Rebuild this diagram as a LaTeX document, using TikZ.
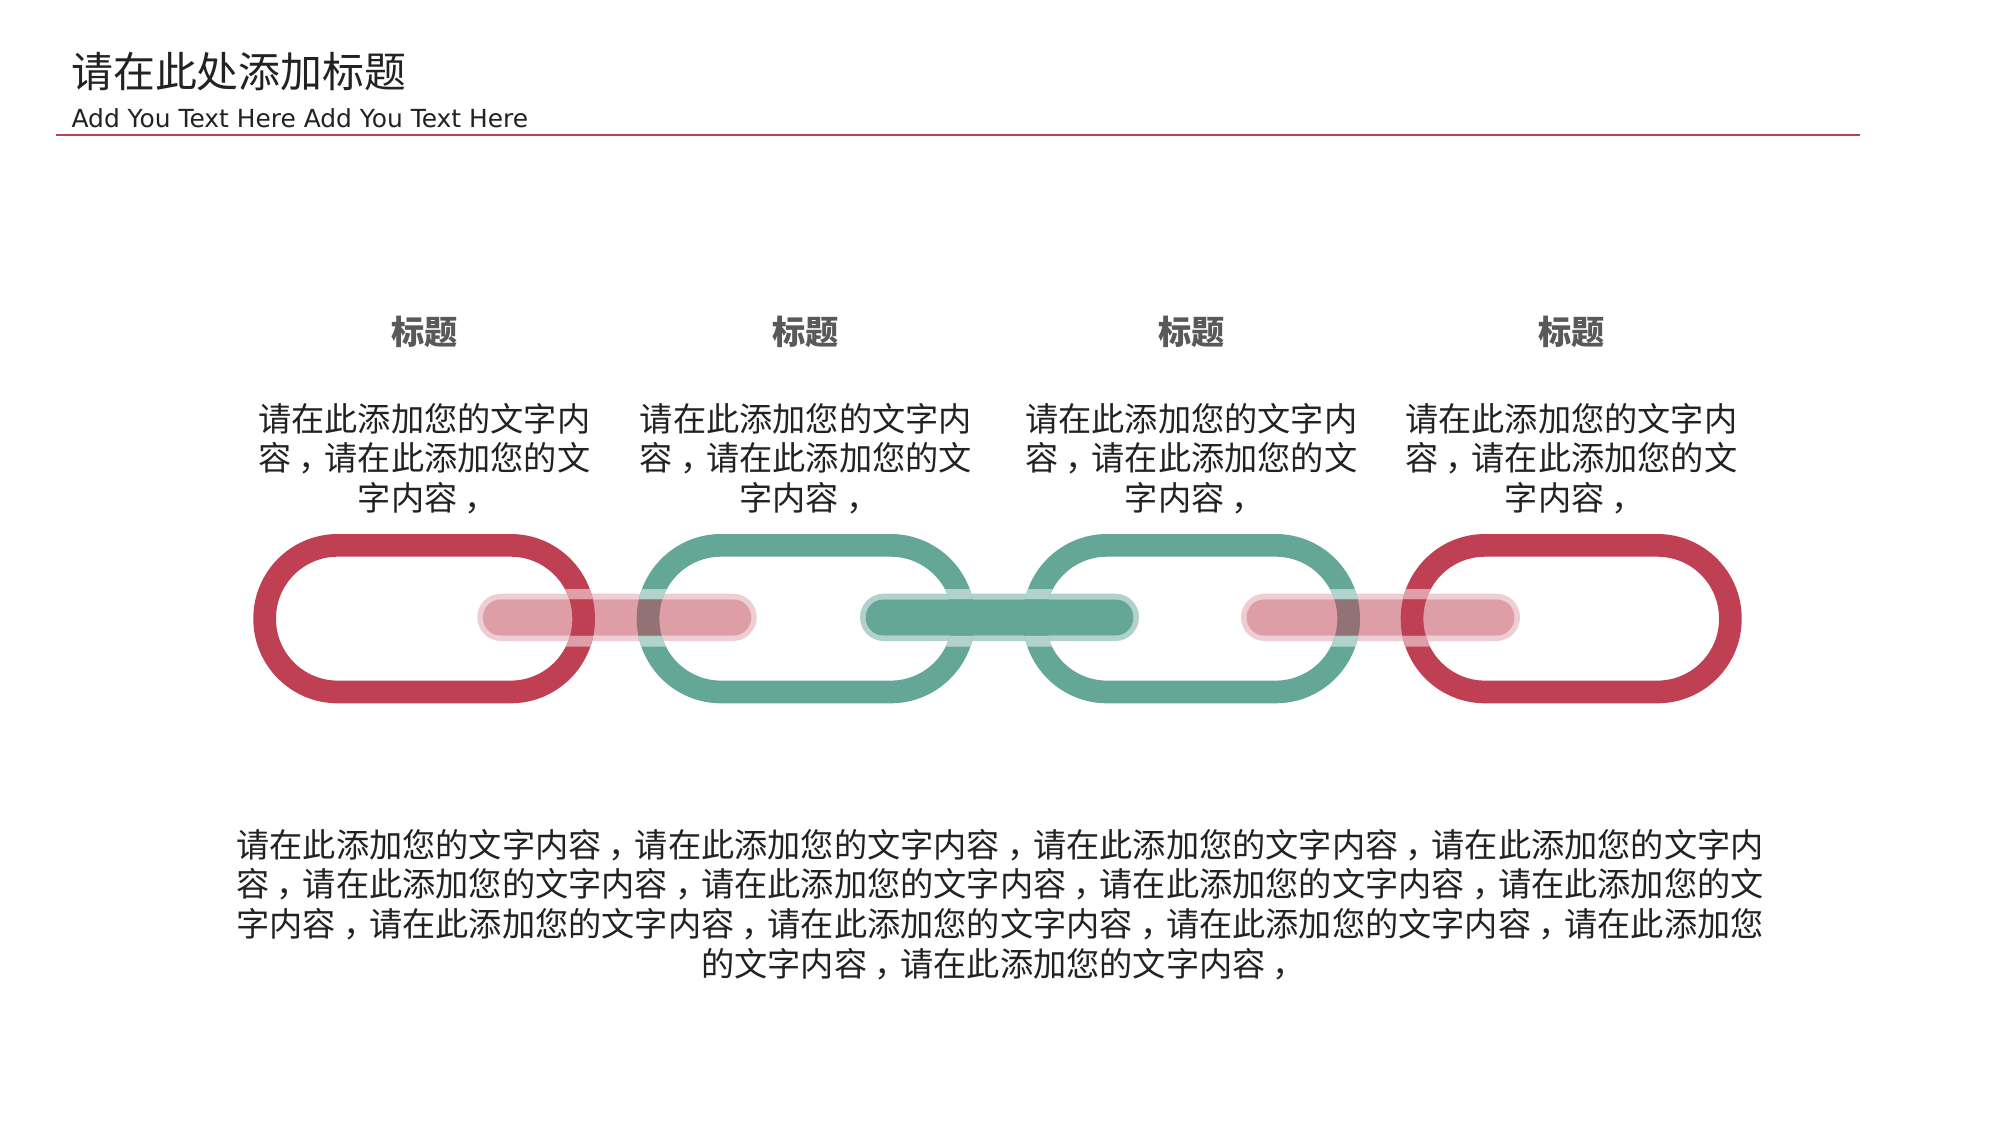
\documentclass[tikz,border=0pt]{standalone}
\usepackage{fontspec}
\setmainfont{DejaVu Sans}
\newfontfamily\cjk{Noto Sans CJK SC}
\newcommand\zhcomma{\makebox[1em][l]{\hspace{0.22em}，}}
\definecolor{linkred}{HTML}{BF3F53}
\definecolor{linkgreen}{HTML}{65A797}
\definecolor{txt}{HTML}{222222}
\definecolor{headgray}{HTML}{595959}
\begin{document}
\begin{tikzpicture}[x=1pt,y=-1pt,
  linkstroke/.style={line width=22.7pt, rounded corners=73pt},
  ringpink/.style={fill=linkred, fill opacity=0.25, even odd rule},
  ringgreen/.style={fill=linkgreen, fill opacity=0.5, even odd rule},
  innerpink/.style={fill=linkred, fill opacity=0.5},
  innergreen/.style={fill=linkgreen},
  headtext/.style={anchor=base, inner sep=0pt, text=headgray, font=\cjk\bfseries\fontsize{33.2}{40}\selectfont},
  bodytext/.style={anchor=base, inner sep=0pt, text=txt, align=center, font=\cjk\fontsize{33.2}{39.5}\selectfont}]
\useasboundingbox (0,0) rectangle (2000,1125);
\fill[white] (0,0) rectangle (2000,1125);

% header
\node[anchor=base west, inner sep=0pt, text=txt, font=\cjk\fontsize{41.9}{50}\selectfont] (title) at (71,87.5) {请在此处添加标题};
\node[anchor=base west, inner sep=0pt, text=txt, font=\fontsize{24.9}{30}\selectfont] (subtitle) at (71.4,127.7) {Add You Text Here Add You Text Here};
\coordinate (ruleL) at (56.1,135);
\coordinate (ruleR) at (1860,135);
\draw[linkred, line width=1.5pt] (ruleL) -- (ruleR);

% bar rings (under the links)
\fill[ringpink, rounded corners=23.6pt] (477.3,593.7) rectangle (756.7,641)
  [rounded corners=18.2pt] (482.8,599.3) rectangle (751.2,635.7);
\fill[ringgreen, rounded corners=23.6pt] (860,593.7) rectangle (1139,641)
  [rounded corners=18.2pt] (865.5,599.3) rectangle (1133.5,635.7);
\fill[ringpink, rounded corners=23.6pt] (1241,593.7) rectangle (1520,641)
  [rounded corners=18.2pt] (1246.5,599.3) rectangle (1514.5,635.7);

% links
\draw[linkstroke, linkred]   (264.65,545.35) rectangle (583.65,691.95);
\draw[linkstroke, linkgreen] (648.05,545.35) rectangle (963.65,691.95);
\draw[linkstroke, linkgreen] (1034.05,545.35) rectangle (1348.65,691.95);
\draw[linkstroke, linkred]   (1412.05,545.35) rectangle (1730.35,691.95);

% light bands where the bars cross the links
\begin{scope}
\clip (477.3,589) rectangle (756.7,599.3) (477.3,635.7) rectangle (756.7,646.7);
\draw[linkstroke, linkred!50!white]   (264.65,545.35) rectangle (583.65,691.95);
\draw[linkstroke, linkgreen!50!white] (648.05,545.35) rectangle (963.65,691.95);
\end{scope}
\begin{scope}
\clip (860,589) rectangle (1139,599.3) (860,635.7) rectangle (1139,646.7);
\draw[linkstroke, linkgreen!50!white] (648.05,545.35) rectangle (963.65,691.95);
\draw[linkstroke, linkgreen!50!white] (1034.05,545.35) rectangle (1348.65,691.95);
\end{scope}
\begin{scope}
\clip (1241,589) rectangle (1520,599.3) (1241,635.7) rectangle (1520,646.7);
\draw[linkstroke, linkgreen!50!white] (1034.05,545.35) rectangle (1348.65,691.95);
\draw[linkstroke, linkred!50!white]   (1412.05,545.35) rectangle (1730.35,691.95);
\end{scope}

% bar cores
\fill[innerpink, rounded corners=18.2pt] (482.8,599.3) rectangle (751.2,635.7);
\fill[innergreen, rounded corners=18.2pt] (865.5,599.3) rectangle (1133.5,635.7);
\fill[innerpink, rounded corners=18.2pt] (1246.5,599.3) rectangle (1514.5,635.7);

% headings and texts
\node[headtext] (h1) at (424.2,344.3) {标题};
\node[headtext] (h2) at (805.8,344.3) {标题};
\node[headtext] (h3) at (1191.3,344.3) {标题};
\node[headtext] (h4) at (1571.2,344.3) {标题};

\node[bodytext, text width=400pt] (t1) at (424.2,431) {请在此添加您的文字内\\容\zhcomma 请在此添加您的文\\字内容\zhcomma};
\node[bodytext, text width=400pt] (t2) at (805.8,431) {请在此添加您的文字内\\容\zhcomma 请在此添加您的文\\字内容\zhcomma};
\node[bodytext, text width=400pt] (t3) at (1191.3,431) {请在此添加您的文字内\\容\zhcomma 请在此添加您的文\\字内容\zhcomma};
\node[bodytext, text width=400pt] (t4) at (1571.2,431) {请在此添加您的文字内\\容\zhcomma 请在此添加您的文\\字内容\zhcomma};

\node[bodytext, text width=1600pt, font=\cjk\fontsize{33.2}{39.8}\selectfont] (summary) at (1000,857) {请在此添加您的文字内容\zhcomma 请在此添加您的文字内容\zhcomma 请在此添加您的文字内容\zhcomma 请在此添加您的文字内\\容\zhcomma 请在此添加您的文字内容\zhcomma 请在此添加您的文字内容\zhcomma 请在此添加您的文字内容\zhcomma 请在此添加您的文\\字内容\zhcomma 请在此添加您的文字内容\zhcomma 请在此添加您的文字内容\zhcomma 请在此添加您的文字内容\zhcomma 请在此添加您\\的文字内容\zhcomma 请在此添加您的文字内容\zhcomma};
\end{tikzpicture}
\end{document}
